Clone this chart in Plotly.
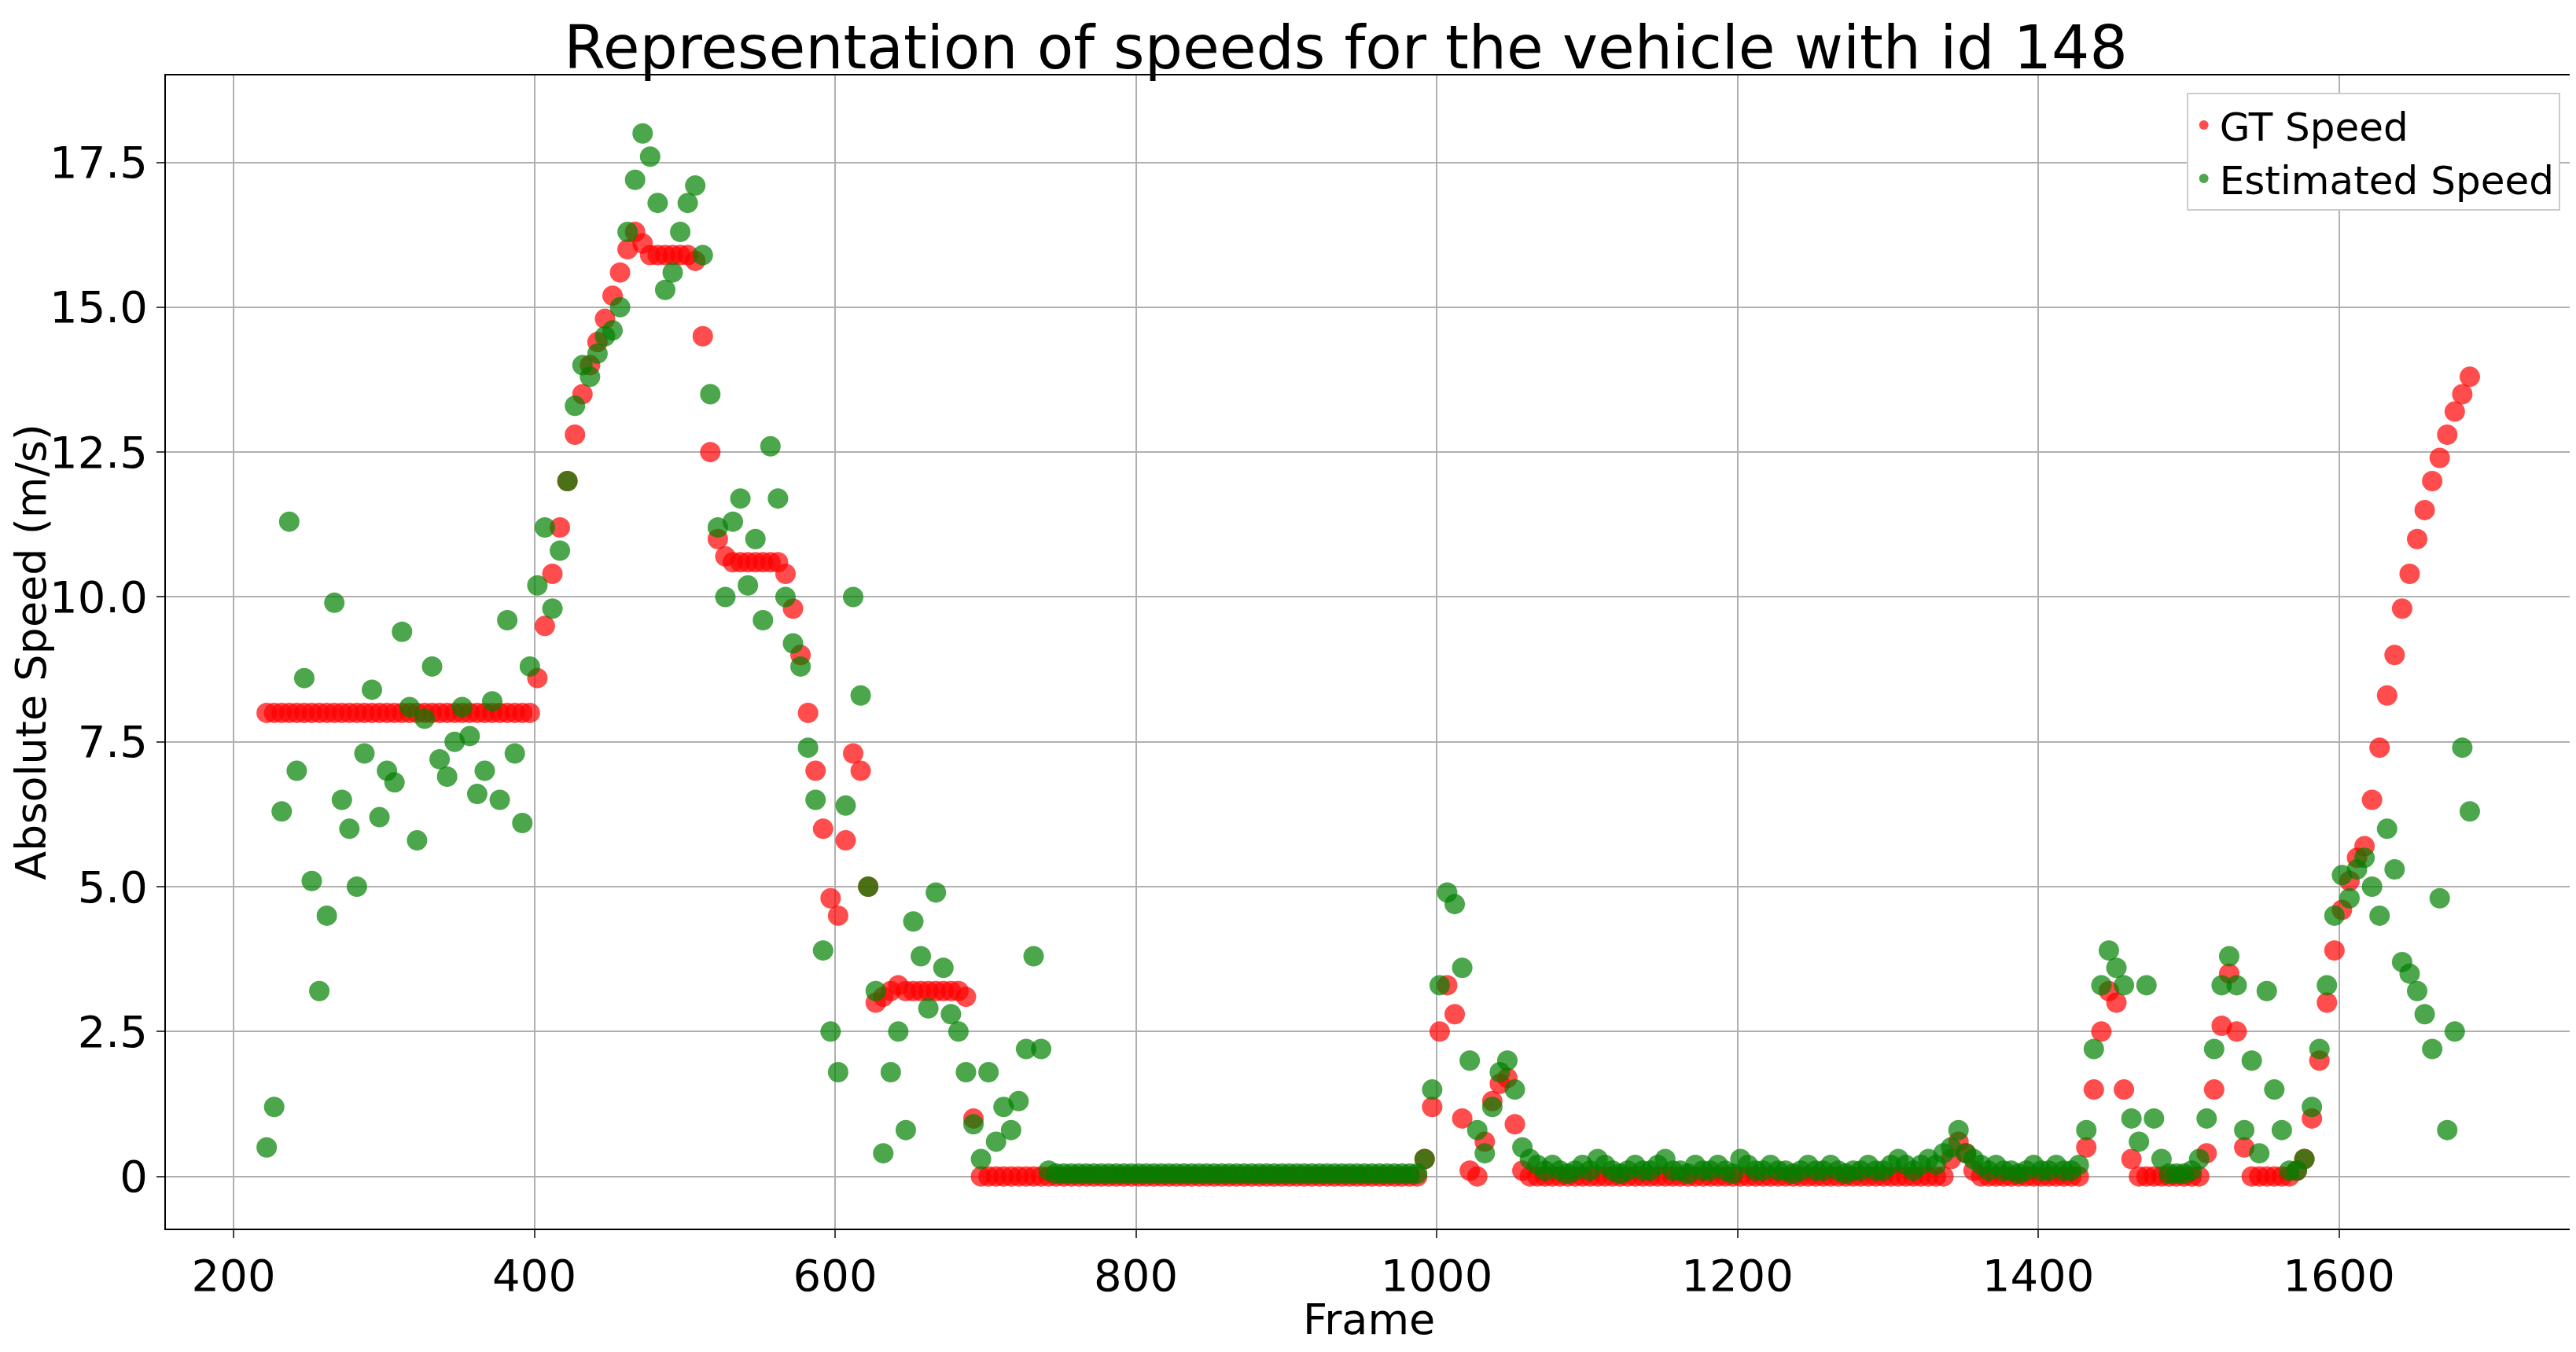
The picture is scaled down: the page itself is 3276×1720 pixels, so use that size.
import plotly.graph_objects as go

frames = list(range(222, 1688, 5))

gt_speed = ([8.0]*36
    + [8.6,9.5,10.4,11.2,12.0,12.8,13.5,14.0,14.4,14.8,15.2,15.6,16.0,16.3]
    + [16.1,15.9,15.9,15.9,15.9,15.9,15.9,15.8,14.5]
    + [12.5,11.0,10.7,10.6,10.6,10.6,10.6,10.6,10.6,10.6,10.4]
    + [9.8,9.0,8.0,7.0,6.0,4.8]
    + [4.5,5.8,7.3,7.0,5.0,3.0]
    + [3.1,3.2,3.3,3.2,3.2,3.2,3.2,3.2,3.2,3.2,3.2,3.1]
    + [1.0] + [0.0]*11
    + [0.0]*48
    + [0.3,1.2,2.5,3.3,2.8,1.0,0.1,0.0,0.6,1.3,1.6,1.7,0.9,0.1,0.0,0.0]
    + [0.0]*54
    + [0.3,0.6,0.4,0.1,0.0]
    + [0.0]*13
    + [0.5,1.5,2.5,3.2,3.0,1.5,0.3,0.0]
    + [0.0]*8
    + [0.4,1.5,2.6,3.5,2.5,0.5,0.0,0.0]
    + [0.0,0.0,0.0,0.0,0.1,0.3]
    + [1.0,2.0,3.0,3.9,4.6,5.1,5.5,5.7,6.5,7.4]
    + [8.3,9.0,9.8,10.4,11.0,11.5,12.0,12.4,12.8,13.2,13.5,13.8])

est_speed = ([0.5,1.2,6.3,11.3,7.0,8.6,5.1,3.2,4.5,9.9,6.5,6.0,5.0,7.3,8.4,6.2,7.0,6.8,9.4,8.1,5.8,7.9,8.8,7.2,6.9,7.5,8.1,7.6,6.6,7.0,8.2,6.5,9.6,7.3,6.1,8.8]
    + [10.2,11.2,9.8,10.8,12.0,13.3,14.0,13.8,14.2,14.5,14.6,15.0,16.3,17.2]
    + [18.0,17.6,16.8,15.3,15.6,16.3,16.8,17.1,15.9]
    + [13.5,11.2,10.0,11.3,11.7,10.2,11.0,9.6,12.6,11.7,10.0]
    + [9.2,8.8,7.4,6.5,3.9,2.5]
    + [1.8,6.4,10.0,8.3,5.0,3.2]
    + [0.4,1.8,2.5,0.8,4.4,3.8,2.9,4.9,3.6,2.8,2.5,1.8]
    + [0.9,0.3,1.8,0.6,1.2,0.8,1.3,2.2,3.8,2.2,0.1,0.05]
    + [0.05]*48
    + [0.3,1.5,3.3,4.9,4.7,3.6,2.0,0.8,0.4,1.2,1.8,2.0,1.5,0.5,0.3,0.2]
    + [0.1,0.2,0.1,0.05,0.1,0.2,0.1,0.3,0.2,0.1,0.05,0.1,0.2,0.1,0.1,0.2,0.3,0.1,0.1,0.05,0.2,0.1,0.1,0.2,0.1,0.05,0.3,0.2,0.1,0.1,0.2,0.1,0.1,0.05,0.1,0.2,0.1,0.1,0.2,0.1,0.05,0.1,0.1,0.2,0.1,0.1,0.2,0.3,0.2,0.1,0.2,0.3,0.2,0.4]
    + [0.5,0.8,0.4,0.3,0.2]
    + [0.1,0.2,0.1,0.1,0.05,0.1,0.2,0.1,0.1,0.2,0.1,0.1,0.2]
    + [0.8,2.2,3.3,3.9,3.6,3.3,1.0,0.6]
    + [3.3,1.0,0.3,0.05,0.05,0.05,0.1,0.3]
    + [1.0,2.2,3.3,3.8,3.3,0.8,2.0,0.4]
    + [3.2,1.5,0.8,0.1,0.1,0.3]
    + [1.2,2.2,3.3,4.5,5.2,4.8,5.3,5.5,5.0,4.5]
    + [6.0,5.3,3.7,3.5,3.2,2.8,2.2,4.8,0.8,2.5,7.4,6.3])

fig = go.Figure()
fig.add_trace(go.Scatter(x=frames, y=gt_speed, mode="markers", name="GT Speed",
                         marker=dict(color="red", size=26, opacity=0.7)))
fig.add_trace(go.Scatter(x=frames, y=est_speed, mode="markers", name="Estimated Speed",
                         marker=dict(color="green", size=26, opacity=0.7)))

axis_common = dict(showgrid=True, gridcolor="#b0b0b0", gridwidth=2, showline=True,
                   linecolor="black", linewidth=2, mirror=True, ticks="outside",
                   ticklen=10, tickwidth=2, zeroline=False,
                   tickfont=dict(size=56, color="black"))
fig.update_layout(
    width=3276, height=1720, paper_bgcolor="white", plot_bgcolor="white",
    font=dict(family="DejaVu Sans", color="black"),
    title=dict(text="Representation of speeds for the vehicle with id 148",
               x=0.52, xanchor="center", y=0.985, yanchor="top", font=dict(size=76)),
    margin=dict(l=203, r=13, t=88, b=165),
    xaxis=dict(range=[155, 1755], tickvals=[200,400,600,800,1000,1200,1400,1600], **axis_common),
    yaxis=dict(title=dict(text="Absolute Speed (m/s)", font=dict(size=54), standoff=0),
               range=[-0.9, 19.0], tickvals=[0,2.5,5,7.5,10,12.5,15,17.5],
               ticktext=["0","2.5","5.0","7.5","10.0","12.5","15.0","17.5"], **axis_common),
    legend=dict(x=0.995, y=0.985, xanchor="right", yanchor="top", bgcolor="white",
                bordercolor="#cccccc", borderwidth=2, font=dict(size=50),
                itemsizing="constant"),
    annotations=[dict(text="Frame", xref="paper", yref="paper", x=0.5, y=0,
                      xanchor="center", yanchor="top", yshift=-82, showarrow=False,
                      font=dict(size=54))],
    showlegend=True,
)
fig.write_html("out.html")
